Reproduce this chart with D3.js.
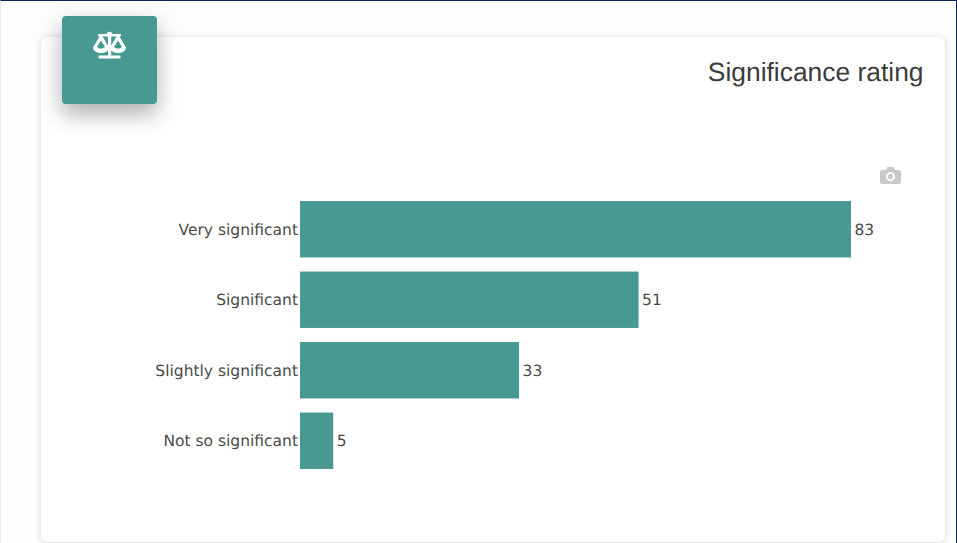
<!DOCTYPE html>
<html><head><meta charset="utf-8">
<script src="https://cdn.jsdelivr.net/npm/d3@7"></script>
<style>
html,body{margin:0;padding:0;background:#fdfdfd;overflow:hidden}
#frame{position:absolute;left:0;top:0;width:957px;height:543px;box-sizing:border-box;border-top:1.5px solid #0b2559;border-right:1.5px solid #0b2559;border-left:1px solid #e6e8ee}
#card{position:absolute;left:41px;top:37px;width:904px;height:505px;background:#fff;border-radius:6px;box-shadow:0 1px 7px rgba(0,0,0,.16)}
#tile{position:absolute;left:62px;top:16px;width:95px;height:88px;background:#489992;border-radius:4px;box-shadow:0 10px 22px rgba(0,0,0,.32)}
svg{position:absolute;left:0;top:0}
text{text-rendering:geometricPrecision}
</style></head><body>
<div id="frame"></div><div id="card"></div><div id="tile"></div>
<svg id="chart" width="957" height="543"></svg>
<script>
const categories=["Very significant","Significant","Slightly significant","Not so significant"];
const seriesValues=[83,51,33,5];
const titleText="Significance rating";
const svg=d3.select("#chart");
const x=d3.scaleLinear().domain([0,83]).range([300,851]);
const y=d3.scaleBand().domain(categories).range([194,476]).paddingInner(0.2).paddingOuter(0.1);
const font="'DejaVu Sans',sans-serif";
svg.selectAll("rect.bar").data(categories).join("rect").attr("class","bar")
  .attr("x",x(0)).attr("y",d=>y(d)).attr("height",y.bandwidth())
  .attr("width",(d,i)=>x(seriesValues[i])-x(0)).attr("fill","#489992");
svg.selectAll("text.cat").data(categories).join("text").attr("class","cat")
  .attr("x",x(0)-2).attr("y",d=>y(d)+y.bandwidth()/2+5.5).attr("text-anchor","end")
  .attr("font-family",font).attr("font-size",15.5).attr("fill","#4a4a4a").text(d=>d);
svg.selectAll("text.val").data(seriesValues).join("text").attr("class","val")
  .attr("x",d=>x(d)+3.5).attr("y",(d,i)=>y(categories[i])+y.bandwidth()/2+5.5)
  .attr("font-family",font).attr("font-size",15.5).attr("fill","#4a4a4a").text(d=>d);
svg.append("text").attr("x",923.5).attr("y",81).attr("text-anchor","end")
  .attr("font-family","'Liberation Sans',Arial,sans-serif").attr("font-size",26.4).attr("fill","#3c3c3c").text(titleText);
const cam=svg.append("g").attr("transform","translate(880,167)");
cam.append("path").attr("fill","#c9c9c9").attr("fill-rule","evenodd")
  .attr("d","M2,3H6L7.5,0H13.5L15,3H19Q21,3,21,5V15Q21,17,19,17H2Q0,17,0,15V5Q0,3,2,3Z M10.5,5A4.6,4.6,0,1,0,10.5,14.2A4.6,4.6,0,1,0,10.5,5Z M10.5,7A2.6,2.6,0,1,1,10.5,12.2A2.6,2.6,0,1,1,10.5,7Z");
const s=svg.append("g").attr("transform","translate(93,31)").attr("fill","#fff").attr("stroke","none");
s.append("rect").attr("x",5).attr("y",3).attr("width",23).attr("height",2.4).attr("rx",1);
s.append("circle").attr("cx",16.5).attr("cy",3.6).attr("r",2.8);
s.append("rect").attr("x",15).attr("y",3).attr("width",3.2).attr("height",23);
s.append("rect").attr("x",5.5).attr("y",24.5).attr("width",22).attr("height",3).attr("rx",1);
const pan=cx=>{s.append("path").attr("fill-rule","evenodd")
  .attr("d",`M${cx-1.2},5 H${cx+1.2} L${cx+8},16.5 A8,5.5 0 0 1 ${cx-8},16.5 Z M${cx},9.5 L${cx-4},16 Q${cx},19.5 ${cx+4},16 Z`);};
pan(8);pan(25);
</script></body></html>
